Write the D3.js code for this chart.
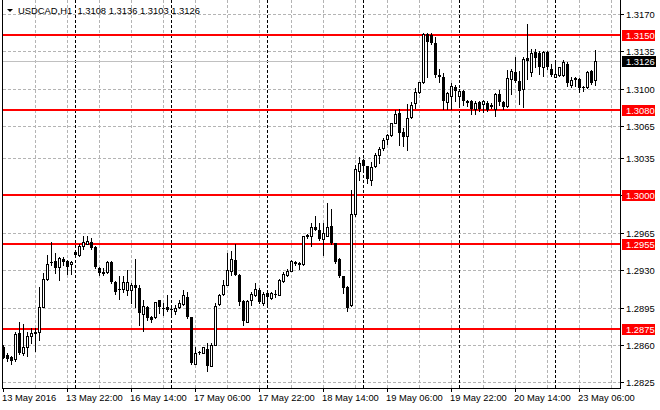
<!DOCTYPE html>
<html>
<head>
<meta charset="utf-8">
<script src="https://cdn.jsdelivr.net/npm/d3@7"></script>
<style>
  body { margin: 0; background: #ffffff; }
  svg { display: block; }
  text { font-family: "Liberation Sans", Arial, sans-serif; font-size: 9.4px; fill: #000000; }
</style>
</head>
<body>
<div id="chart"></div>
<script>

let symbol = "USDCAD,H1";

// one bar per hour, 13 May 2016 06:00 .. 23 May 2016 10:00
let opens = [
  1.28584, 1.28505, 1.28490, 1.28465, 1.28709, 1.28527, 1.28584, 1.28684, 1.28722, 1.28719,
  1.28960, 1.29217, 1.29381, 1.29384, 1.29327, 1.29406, 1.29384, 1.29356, 1.29472, 1.29440,
  1.29531, 1.29550, 1.29563, 1.29519, 1.29321, 1.29280, 1.29280, 1.29374, 1.29186, 1.29127,
  1.29127, 1.29117, 1.29117, 1.29158, 1.29133, 1.28891, 1.28954, 1.28860, 1.28860, 1.29017,
  1.28951, 1.28954, 1.28938, 1.28923, 1.28954, 1.28985, 1.29051, 1.28860, 1.28427, 1.28534,
  1.28527, 1.28567, 1.28407, 1.28605, 1.28982, 1.29076, 1.29164, 1.29296, 1.29399, 1.29258,
  1.29014, 1.28819, 1.29023, 1.29070, 1.29117, 1.28992, 1.29086, 1.29039, 1.29079, 1.29070,
  1.29202, 1.29258, 1.29296, 1.29377, 1.29368, 1.29359, 1.29616, 1.29622, 1.29709, 1.29678,
  1.29591, 1.29625, 1.29716, 1.29553, 1.29403, 1.29247, 1.29147, 1.28975, 1.29826, 1.30233,
  1.30333, 1.30271, 1.30140, 1.30271, 1.30383, 1.30442, 1.30526, 1.30566, 1.30682, 1.30769,
  1.30598, 1.30557, 1.30731, 1.30862, 1.30971, 1.31059, 1.31512, 1.31500, 1.31431, 1.31131,
  1.31113, 1.30872, 1.30934, 1.31019, 1.30934, 1.30975, 1.30881, 1.30888, 1.30809, 1.30872,
  1.30856, 1.30863, 1.30850, 1.30809, 1.30950, 1.30872, 1.30838, 1.31091, 1.31159, 1.31075,
  1.30997, 1.31288, 1.31153, 1.31341, 1.31331, 1.31206, 1.31341, 1.31184, 1.31113, 1.31131,
  1.31131, 1.31231, 1.31038, 1.31100, 1.31091, 1.31019, 1.31013, 1.31163, 1.31080
];
let highs = [
  1.28596, 1.28527, 1.28502, 1.28725, 1.28816, 1.28794, 1.28725, 1.28756, 1.28756, 1.29142,
  1.29274, 1.29446, 1.29566, 1.29462, 1.29425, 1.29421, 1.29399, 1.29384, 1.29487, 1.29550,
  1.29619, 1.29619, 1.29603, 1.29525, 1.29327, 1.29321, 1.29384, 1.29384, 1.29196, 1.29249,
  1.29243, 1.29305, 1.29180, 1.29409, 1.29164, 1.29017, 1.28967, 1.28872, 1.29007, 1.29023,
  1.28998, 1.29070, 1.28954, 1.28976, 1.29023, 1.29111, 1.29092, 1.28866, 1.28578, 1.28546,
  1.28584, 1.28618, 1.28618, 1.28989, 1.29076, 1.29211, 1.29462, 1.29484, 1.29541, 1.29265,
  1.29020, 1.29023, 1.29101, 1.29180, 1.29133, 1.29101, 1.29095, 1.29092, 1.29111, 1.29217,
  1.29283, 1.29315, 1.29399, 1.29384, 1.29377, 1.29622, 1.29637, 1.29741, 1.29803, 1.29741,
  1.29741, 1.29928, 1.29872, 1.29553, 1.29412, 1.29247, 1.29153, 1.30055, 1.30286, 1.30364,
  1.30339, 1.30277, 1.30317, 1.30401, 1.30457, 1.30535, 1.30573, 1.30682, 1.30800, 1.30806,
  1.30629, 1.30856, 1.30878, 1.31002, 1.31064, 1.31519, 1.31519, 1.31519, 1.31481, 1.31184,
  1.31144, 1.30966, 1.31050, 1.31038, 1.30997, 1.30987, 1.30894, 1.30894, 1.30888, 1.30888,
  1.30894, 1.30881, 1.30863, 1.30956, 1.30987, 1.30888, 1.31175, 1.31184, 1.31300, 1.31169,
  1.31294, 1.31606, 1.31372, 1.31372, 1.31356, 1.31350, 1.31350, 1.31231, 1.31263, 1.31206,
  1.31263, 1.31247, 1.31106, 1.31113, 1.31100, 1.31028, 1.31163, 1.31175, 1.31360
];
let lows = [
  1.28477, 1.28449, 1.28427, 1.28452, 1.28515, 1.28505, 1.28496, 1.28615, 1.28546, 1.28647,
  1.28954, 1.29211, 1.29352, 1.29274, 1.29211, 1.29352, 1.29265, 1.29265, 1.29437, 1.29431,
  1.29500, 1.29541, 1.29503, 1.29318, 1.29258, 1.29258, 1.29274, 1.29180, 1.29079, 1.29029,
  1.29092, 1.29064, 1.28998, 1.28960, 1.28788, 1.28731, 1.28835, 1.28819, 1.28850, 1.28898,
  1.28882, 1.28919, 1.28872, 1.28891, 1.28945, 1.28976, 1.28850, 1.28427, 1.28421, 1.28515,
  1.28521, 1.28359, 1.28400, 1.28599, 1.28976, 1.29070, 1.29158, 1.29258, 1.29252, 1.28976,
  1.28788, 1.28813, 1.28976, 1.29061, 1.28992, 1.28976, 1.28982, 1.29029, 1.29054, 1.29064,
  1.29189, 1.29243, 1.29290, 1.29346, 1.29315, 1.29350, 1.29606, 1.29528, 1.29672, 1.29584,
  1.29444, 1.29616, 1.29547, 1.29372, 1.29241, 1.29091, 1.28922, 1.28966, 1.29804, 1.30146,
  1.30224, 1.30121, 1.30100, 1.30265, 1.30302, 1.30426, 1.30482, 1.30557, 1.30675, 1.30473,
  1.30464, 1.30426, 1.30722, 1.30815, 1.30955, 1.31053, 1.31106, 1.31419, 1.31113, 1.31059,
  1.30809, 1.30809, 1.30809, 1.30888, 1.30856, 1.30850, 1.30841, 1.30763, 1.30763, 1.30794,
  1.30778, 1.30794, 1.30819, 1.30747, 1.30850, 1.30809, 1.30825, 1.30950, 1.31059, 1.30856,
  1.30831, 1.31091, 1.31122, 1.31200, 1.31138, 1.31122, 1.31184, 1.31122, 1.31106, 1.31122,
  1.31122, 1.31028, 1.31019, 1.31028, 1.30966, 1.30981, 1.31006, 1.31044, 1.31030
];
let closes = [
  1.28483, 1.28465, 1.28452, 1.28703, 1.28521, 1.28578, 1.28684, 1.28709, 1.28706, 1.28954,
  1.29217, 1.29359, 1.29365, 1.29321, 1.29415, 1.29374, 1.29330, 1.29377, 1.29446, 1.29531,
  1.29563, 1.29572, 1.29509, 1.29327, 1.29274, 1.29265, 1.29377, 1.29186, 1.29101, 1.29111,
  1.29186, 1.29186, 1.29164, 1.29133, 1.28898, 1.28967, 1.28850, 1.28835, 1.29001, 1.28954,
  1.28941, 1.28929, 1.28929, 1.28945, 1.28992, 1.29070, 1.28866, 1.28433, 1.28521, 1.28521,
  1.28578, 1.28407, 1.28605, 1.28967, 1.29070, 1.29164, 1.29305, 1.29406, 1.29258, 1.29001,
  1.28825, 1.29014, 1.29076, 1.29120, 1.29001, 1.29076, 1.29045, 1.29086, 1.29070, 1.29211,
  1.29265, 1.29296, 1.29390, 1.29362, 1.29352, 1.29622, 1.29631, 1.29703, 1.29678, 1.29594,
  1.29647, 1.29703, 1.29553, 1.29381, 1.29247, 1.29131, 1.28944, 1.29828, 1.30246, 1.30308,
  1.30271, 1.30152, 1.30265, 1.30380, 1.30439, 1.30520, 1.30566, 1.30675, 1.30762, 1.30582,
  1.30551, 1.30722, 1.30846, 1.30971, 1.31058, 1.31512, 1.31434, 1.31431, 1.31131, 1.31106,
  1.30888, 1.30956, 1.31028, 1.30981, 1.30975, 1.30888, 1.30869, 1.30809, 1.30863, 1.30809,
  1.30881, 1.30800, 1.30831, 1.30950, 1.30872, 1.30825, 1.31100, 1.31169, 1.31075, 1.30981,
  1.31278, 1.31256, 1.31331, 1.31288, 1.31200, 1.31341, 1.31200, 1.31131, 1.31138, 1.31200,
  1.31247, 1.31050, 1.31081, 1.31081, 1.31006, 1.31006, 1.31153, 1.31050, 1.31260
];

// bar index -> time label on the bottom scale
let timeLabelBars = [0, 16, 32, 48, 64, 80, 96, 112, 128, 144];
let timeLabels = ["13 May 2016", "13 May 22:00", "16 May 14:00", "17 May 06:00", "17 May 22:00",
                  "18 May 14:00", "19 May 06:00", "19 May 22:00", "20 May 14:00", "23 May 06:00"];

// first bar of each new trading day
let dayStartBars = [18, 42, 66, 90, 114, 138];

let priceTicks = [1.3170, 1.3135, 1.3100, 1.3065, 1.3035, 1.3000, 1.2965, 1.2930, 1.2895, 1.2860, 1.2825];

// horizontal levels drawn on the chart
let levels = [1.3150, 1.3080, 1.3000, 1.2955, 1.2875];

let width = 660;
let height = 410;
let plotRight = 620;
let plotBottom = 388;

let svg = d3.select("#chart").append("svg")
  .attr("width", width)
  .attr("height", height);

svg.append("rect")
  .attr("width", width)
  .attr("height", height)
  .attr("fill", "#ffffff");

let lastBar = closes.length - 1;

let x = d3.scaleLinear().domain([0, lastBar]).range([3, 3 + 4 * lastBar]);
let y = d3.scaleLinear().domain([1.28198, 1.31829]).range([plotBottom, 0]);

// dashed 1px line built from small rects so the dashes stay sharp
let dashedLine = function(parent, vertical, at, from, to, colour) {
  let dashes = d3.range(from, to, 5);
  parent.append("g").selectAll("rect")
    .data(dashes)
    .join("rect")
    .attr("shape-rendering", "crispEdges")
    .attr("x", d => vertical ? at : d)
    .attr("y", d => vertical ? d : at)
    .attr("width", d => vertical ? 1 : Math.min(3, to - d))
    .attr("height", d => vertical ? Math.min(3, to - d) : 1)
    .attr("fill", colour);
};

let grid = svg.append("g");

// grid, every 8 bars and at each price tick
d3.range(8, 153, 8).forEach(function(b) {
  dashedLine(grid, true, Math.round(x(b)), 0, plotBottom, "#b4b4b4");
});

priceTicks.forEach(function(p) {
  dashedLine(grid, false, Math.round(y(p)), 3, plotRight, "#b4b4b4");
});

// day separators
dayStartBars.forEach(function(b) {
  dashedLine(grid, true, Math.round(x(b)), 0, plotBottom, "#000000");
});

// current price line
svg.append("rect")
  .attr("shape-rendering", "crispEdges")
  .attr("x", 3)
  .attr("y", Math.round(y(closes[lastBar])))
  .attr("width", plotRight - 3)
  .attr("height", 1)
  .attr("fill", "#c0c0c0");

// red levels
svg.append("g").selectAll("rect")
  .data(levels)
  .join("rect")
  .attr("shape-rendering", "crispEdges")
  .attr("x", 3)
  .attr("y", d => Math.round(y(d)) - 1)
  .attr("width", plotRight - 3)
  .attr("height", 2)
  .attr("fill", "#ff0000");

// candles
let bars = d3.range(closes.length);

let candles = svg.append("g").selectAll("g")
  .data(bars)
  .join("g")
  .attr("shape-rendering", "crispEdges");

candles.append("rect")
  .attr("x", i => Math.round(x(i)))
  .attr("y", i => Math.round(y(highs[i])))
  .attr("width", 1)
  .attr("height", i => Math.round(y(lows[i])) - Math.round(y(highs[i])) + 1)
  .attr("fill", "#000000");

candles.append("rect")
  .attr("x", i => closes[i] >= opens[i] ? Math.round(x(i)) - 0.5 : Math.round(x(i)) - 1)
  .attr("y", i => {
    let top = Math.round(y(Math.max(opens[i], closes[i])));
    return closes[i] >= opens[i] ? top + 0.5 : top;
  })
  .attr("width", i => closes[i] >= opens[i] ? 2 : 3)
  .attr("height", i => {
    let h = Math.round(y(Math.min(opens[i], closes[i]))) - Math.round(y(Math.max(opens[i], closes[i])));
    return closes[i] >= opens[i] ? Math.max(h, 0) : Math.max(h, 1);
  })
  .attr("fill", i => closes[i] >= opens[i] ? "#ffffff" : "#000000")
  .attr("stroke", i => closes[i] >= opens[i] ? "#000000" : "none");

// frame
let frame = svg.append("g").attr("shape-rendering", "crispEdges");

frame.append("rect")
  .attr("x", 2).attr("y", 0)
  .attr("width", 1).attr("height", plotBottom + 1)
  .attr("fill", "#000000");

frame.append("rect")
  .attr("x", plotRight).attr("y", 0)
  .attr("width", 1).attr("height", plotBottom + 1)
  .attr("fill", "#000000");

frame.append("rect")
  .attr("x", 2).attr("y", plotBottom)
  .attr("width", plotRight - 1).attr("height", 1)
  .attr("fill", "#000000");

// price scale
let priceAxis = svg.append("g");

priceAxis.selectAll("rect")
  .data(priceTicks)
  .join("rect")
  .attr("shape-rendering", "crispEdges")
  .attr("x", plotRight)
  .attr("y", d => Math.round(y(d)))
  .attr("width", 4)
  .attr("height", 1)
  .attr("fill", "#000000");

priceAxis.selectAll("text")
  .data(priceTicks)
  .join("text")
  .attr("x", 626)
  .attr("y", d => Math.round(y(d)) + 4)
  .text(d => d.toFixed(4));

let appendPriceLabel = function(price, fill) {
  let cy = Math.round(y(price));
  svg.append("rect")
    .attr("shape-rendering", "crispEdges")
    .attr("x", 622)
    .attr("y", cy - 5)
    .attr("width", fill === "#000000" ? 34 : 33)
    .attr("height", 11)
    .attr("fill", fill);
  svg.append("text")
    .attr("x", 626)
    .attr("y", cy + 4)
    .style("fill", "#ffffff")
    .text(price.toFixed(4));
};

levels.forEach(function(v) { appendPriceLabel(v, "#ff0000"); });
appendPriceLabel(closes[lastBar], "#000000");

// time scale
let timeAxis = svg.append("g");

timeAxis.selectAll("rect")
  .data(timeLabelBars)
  .join("rect")
  .attr("shape-rendering", "crispEdges")
  .attr("x", d => Math.round(x(d)))
  .attr("y", plotBottom)
  .attr("width", 1)
  .attr("height", 4)
  .attr("fill", "#000000");

timeAxis.selectAll("text")
  .data(timeLabelBars)
  .join("text")
  .attr("x", d => Math.round(x(d)) - 1)
  .attr("y", 401)
  .text((d, i) => timeLabels[i]);

// title
svg.append("path")
  .attr("d", "M7,9 L13,9 L10,12 Z")
  .attr("fill", "#000000");

svg.append("text")
  .attr("x", 18)
  .attr("y", 14)
  .attr("xml:space", "preserve")
  .style("white-space", "pre")
  .text(symbol + "  " + [opens[lastBar], highs[lastBar], lows[lastBar], closes[lastBar]]
    .map(v => v.toFixed(4)).join(" "));

</script>
</body>
</html>
